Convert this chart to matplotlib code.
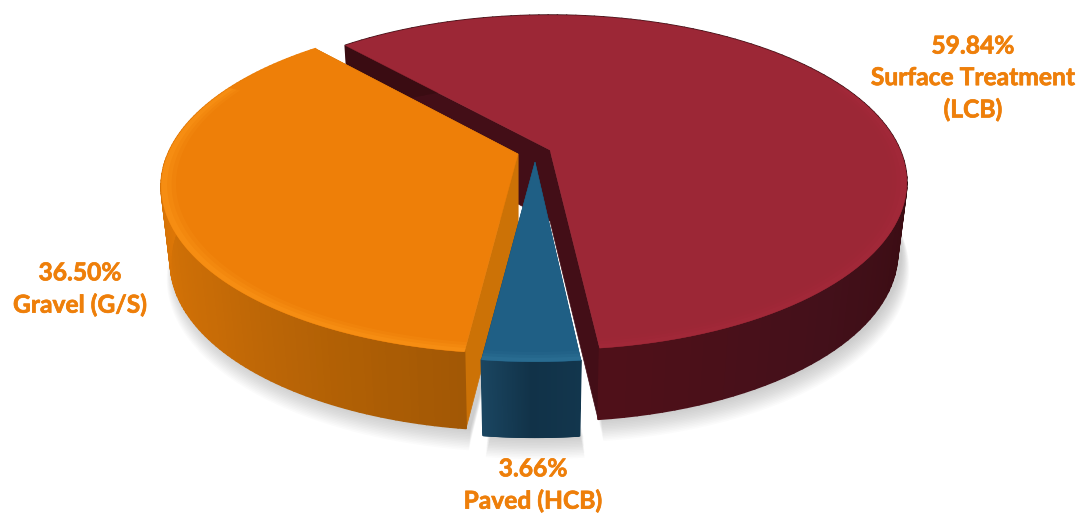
import numpy as np
import matplotlib
matplotlib.use('Agg')
from matplotlib import pyplot as plt
from matplotlib import patheffects
from matplotlib.colors import LinearSegmentedColormap
from matplotlib.collections import PolyCollection

# dados do grafico (sentido horario a partir da fatia vermelha)
categorias = ['Surface Treatment\n(LCB)', 'Paved (HCB)', 'Gravel (G/S)']
valores = [59.84, 3.66, 36.50]

# estilo de cada fatia
cor_topo = ['#9C2736', '#1F5F85', '#EE7F08']
cor_brilho = ['#A42A3A', '#2F7398', '#FA9418']
cor_lado = [['#501019', '#43101A', '#3A0C12', '#3A0C12'],
            ['#1A4560', '#113248', '#12364D'],
            ['#EE8008', '#E07806', '#C86C06', '#A25805']]
cor_corte = ['#430E17', '#1D4A66', '#CC7206']
apice = [(550, 150), (535, 162), (518, 154)]
altura = [71, 75, 76]
giro = [0.5, 0.0, 0.0]
ordem = [0, 2, 1]

inicio = 131.5
R, S, k = 350, 161, 0.194
R_BASE = 0.975
COR_TEXTO = '#EE7F0A'


def projeta(ap, u, v, h=0.0):
    # projecao em perspectiva do disco para pixels da figura
    w = 1 + k * v
    x = ap[0] + R * u / w
    y = ap[1] - S * v / w + h * (1 - 0.09 * v)
    return np.column_stack([x, y])


def borda(ap, t, r=1.0, h=0.0):
    return projeta(ap, r * np.cos(t), r * np.sin(t), h)


fig = plt.figure(figsize=(10.81, 5.13), dpi=100)
ax = fig.add_axes([0, 0, 1, 1])
ax.set_xlim(0, 1081)
ax.set_ylim(513, 0)
ax.axis('off')

# angulos das fatias
varredura = np.array(valores) / sum(valores) * 360
fim = inicio - np.cumsum(varredura)
comeco = fim + varredura
comeco = comeco + np.array(giro)
fim = fim + np.array(giro)

# sombra embaixo do grafico
for i in ordem:
    t = np.radians(np.linspace(comeco[i], fim[i], 200))
    for n in range(14):
        pts = borda(apice[i], t, R_BASE + 0.0016 * n, altura[i] + 1 + 1.1 * n)
        pts = np.vstack([pts, [apice[i][0], apice[i][1] + altura[i]]])
        pts[:, 0] += 4
        ax.fill(pts[:, 0], pts[:, 1], color='#808080', alpha=0.03, lw=0, zorder=1)

# fatias
z = 2
for i in ordem:
    ap = apice[i]
    h = altura[i]
    t = np.radians(np.linspace(comeco[i], fim[i], 120))
    topo = borda(ap, t)
    baixo = borda(ap, t, R_BASE, h)

    # paredes do corte
    base = projeta(ap, np.array([0.0]), np.array([0.0]), h)[0]
    for a, b in [(topo[0], baixo[0]), (topo[-1], baixo[-1])]:
        ax.fill([ap[0], a[0], b[0], base[0]], [ap[1], a[1], b[1], base[1]],
                color=cor_corte[i], lw=0.5, zorder=z)

    # lateral com gradiente
    cmap = LinearSegmentedColormap.from_list('lado', cor_lado[i])
    if i == 0:
        # so a parte da frente do vermelho aparece
        frac = np.clip((np.degrees(t[:-1]) - fim[i]) / 110, 0, 1)
    else:
        frac = np.linspace(1, 0, len(t) - 1)
    quads = [[topo[j], topo[j + 1], baixo[j + 1], baixo[j]] for j in range(len(t) - 1)]
    cores = cmap(frac)
    ax.add_collection(PolyCollection(quads, facecolors=cores, edgecolors=cores, lw=1.3, zorder=z))

    # tampo
    pts = np.vstack([[ap[0], ap[1]], topo])
    ax.fill(pts[:, 0], pts[:, 1], color=cor_topo[i], lw=0.3, zorder=z + 0.1)

    # chanfro claro na borda da frente
    for largura, alfa in [(0.04, 0.2), (0.028, 0.3), (0.016, 0.45)]:
        anel = np.sin(t) < 0.45
        ext = borda(ap, t[anel])
        inte = borda(ap, t[anel], 1 - largura)
        anel_pts = np.vstack([ext, inte[::-1]])
        ax.fill(anel_pts[:, 0], anel_pts[:, 1], color=cor_brilho[i], alpha=alfa, lw=0, zorder=z + 0.2)
    z += 1

# rotulos
kw = dict(color=COR_TEXTO, fontsize=17.7, fontweight='bold', family='Lato',
          ha='center', va='center', linespacing=1.45, zorder=20,
          path_effects=[patheffects.withStroke(linewidth=0.5, foreground=COR_TEXTO)])
ax.text(973, 78, f'{valores[0]:.2f}%\n{categorias[0]}', **kw)
ax.text(80, 289, f'{valores[2]:.2f}%\n{categorias[2]}', **kw)
ax.text(533, 485, f'{valores[1]:.2f}%\n{categorias[1]}', **kw)

plt.savefig('out.png', dpi=100)
